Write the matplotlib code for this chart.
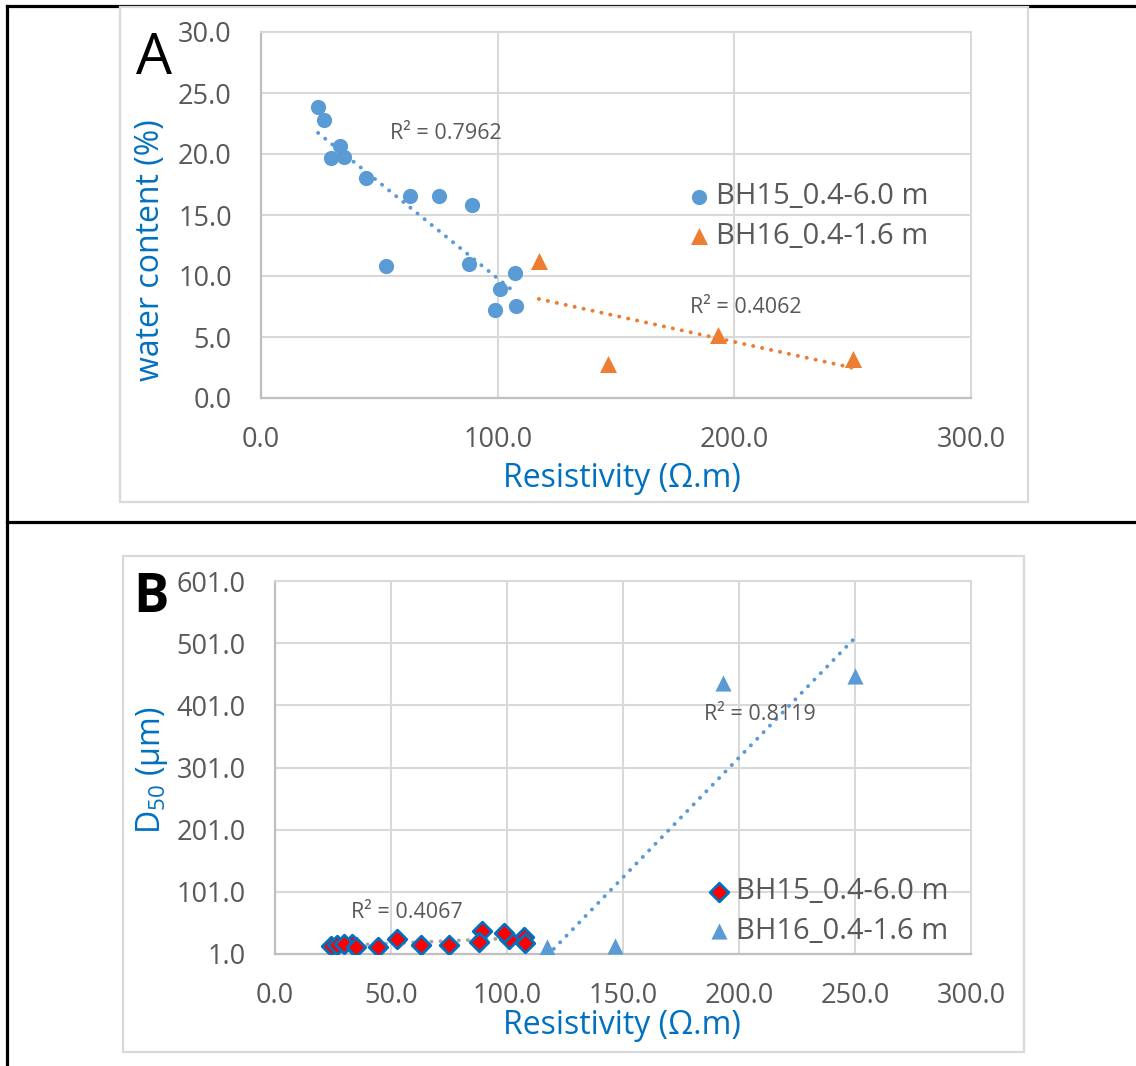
import numpy as np
import matplotlib
matplotlib.use("Agg")
import matplotlib.pyplot as plt
from matplotlib.patches import Rectangle
from matplotlib.lines import Line2D
from matplotlib.ticker import FormatStrFormatter

plt.rcParams['font.family'] = ['Open Sans', 'DejaVu Sans']

# ---------------- data ----------------
bh15_res = [24.1, 26.6, 33.4, 29.6, 35.1, 44.4, 63.0, 75.2, 89.1, 52.8, 87.9, 107.3, 101.0, 98.9, 107.7]
bh15_wc = [23.85, 22.8, 20.66, 19.67, 19.75, 18.03, 16.56, 16.56, 15.8, 10.8, 10.98, 10.25, 8.93, 7.2, 7.54]
bh15_d50 = [14.3, 15.5, 17.0, 16.6, 12.7, 12.7, 15.9, 14.9, 38.0, 24.6, 19.8, 28.8, 24.6, 34.2, 18.2]

bh16_res = [117.4, 146.6, 193.3, 250.0]
bh16_wc = [11.2, 2.75, 5.2, 3.2]
bh16_d50 = [12.3, 13.9, 436.5, 447.9]

label_bh15 = "BH15_0.4-6.0 m"
label_bh16 = "BH16_0.4-1.6 m"
r2_a = ["R² = 0.7962", "R² = 0.4062"]
r2_b = ["R² = 0.4067", "R² = 0.8119"]
xticks_a = [0, 100, 200, 300]
xticks_b = [0, 50, 100, 150, 200, 250, 300]
yticks_a = [0, 5, 10, 15, 20, 25, 30]
yticks_b = [1, 101, 201, 301, 401, 501, 601]

BLUE = '#5B9BD5'
ORANGE = '#ED7D31'
GREY = '#A5A5A5'
TXT = '#595959'
AXBLUE = '#0070C0'
GRID = '#D9D9D9'

W, H = 1136, 1066
fig = plt.figure(figsize=(W / 100, H / 100), dpi=100)


def fx(px):
    return px / W


def fy(py):
    return 1 - py / H


# table lines
lw_black = 2.3
fig.add_artist(Line2D([fx(7), 1.0], [fy(6), fy(6)], color='black', lw=lw_black, zorder=-3))
fig.add_artist(Line2D([fx(7), fx(7)], [fy(6), 0.0], color='black', lw=lw_black, zorder=-3))
fig.add_artist(Line2D([fx(7), 1.0], [fy(522), fy(522)], color='black', lw=lw_black, zorder=-3))

# chart area boxes
for (x0, y0, x1, y1) in [(119.5, 7, 1027.7, 501.7), (122.7, 556, 1024, 1052)]:
    fig.add_artist(Rectangle((fx(x0), fy(y1)), fx(x1) - fx(x0), fy(y0) - fy(y1),
                             transform=fig.transFigure, facecolor='white',
                             edgecolor=GRID, lw=1.6, zorder=-2))


def style_axes(ax):
    ax.set_facecolor('white')
    ax.grid(True, color=GRID, lw=1.5)
    ax.set_axisbelow(True)
    for s in ['top', 'right']:
        ax.spines[s].set_color(GRID)
        ax.spines[s].set_linewidth(1.5)
    for s in ['left', 'bottom']:
        ax.spines[s].set_color('#BFBFBF')
        ax.spines[s].set_linewidth(1.6)
    ax.tick_params(length=0, labelsize=19.5, labelcolor=TXT)
    ax.tick_params(axis='y', pad=21)
    ax.tick_params(axis='x', pad=20)
    ax.xaxis.set_major_formatter(FormatStrFormatter('%.1f'))
    ax.yaxis.set_major_formatter(FormatStrFormatter('%.1f'))


def trend(ax, x, y, color):
    x = np.asarray(x)
    y = np.asarray(y)
    p = np.polyfit(x, y, 1)
    xx = np.array([x.min(), x.max()])
    ax.plot(xx, np.polyval(p, xx), color=color, lw=2.8,
            linestyle=(0, (0.05, 2.3)), dash_capstyle='round', zorder=2)


legend_kw = dict(loc='center left', frameon=False, fontsize=21, labelcolor=TXT,
                 handlelength=0.8, handletextpad=0.2, borderpad=0, borderaxespad=0,
                 labelspacing=0.36, markerscale=1.0)

# ---------------- Panel A ----------------
axA = fig.add_axes([fx(261), fy(398), fx(971) - fx(261), fy(32) - fy(398)])
style_axes(axA)
axA.set_xlim(0, 300)
axA.set_ylim(0, 30)
axA.set_xticks(xticks_a)
axA.set_yticks(yticks_a)
axA.scatter(bh15_res, bh15_wc, s=120, marker='o', color=BLUE, lw=0, zorder=3, label=label_bh15)
axA.scatter(bh16_res, bh16_wc, s=150, marker='^', color=ORANGE, lw=0, zorder=3, label=label_bh16)
trend(axA, bh15_res, bh15_wc, BLUE)
trend(axA, bh16_res, bh16_wc, ORANGE)
axA.text(78.2, 21.7, r2_a[0], fontsize=15.5, color=TXT, ha='center', va='center')
axA.text(205.0, 7.4, r2_a[1], fontsize=15.5, color=TXT, ha='center', va='center')
axA.set_xlabel("Resistivity (Ω.m)", fontsize=23, color=AXBLUE)
axA.xaxis.set_label_coords(0.508, -0.219)
axA.xaxis.label.set_va('center')
axA.set_ylabel("water content (%)", fontsize=23, color=AXBLUE, va='center')
axA.yaxis.set_label_coords(-0.156, 0.404)
axA.legend(bbox_to_anchor=(0.600, 0.496), **legend_kw)
fig.text(fx(154), fy(59), "A", fontsize=41, color='black', ha='center', va='center')

# ---------------- Panel B ----------------
axB = fig.add_axes([fx(275), fy(954), fx(971) - fx(275), fy(581) - fy(954)])
style_axes(axB)
axB.set_xlim(0, 300)
axB.set_ylim(1, 601)
axB.set_xticks(xticks_b)
axB.set_yticks(yticks_b)
trend(axB, bh15_res, bh15_d50, GREY)
trend(axB, bh16_res, bh16_d50, BLUE)
axB.scatter(bh15_res, bh15_d50, s=90, marker='D', facecolor='#FF0000', edgecolor=AXBLUE,
            lw=2.0, zorder=3, label=label_bh15)
axB.scatter(bh16_res, bh16_d50, s=135, marker='^', color=BLUE, lw=0, zorder=3, label=label_bh16)
axB.text(56.9, 68.5, r2_b[0], fontsize=15.5, color=TXT, ha='center', va='center')
axB.text(209.0, 386.8, r2_b[1], fontsize=15.5, color=TXT, ha='center', va='center')
axB.set_xlabel("Resistivity (Ω.m)", fontsize=23, color=AXBLUE)
axB.xaxis.set_label_coords(0.4986, -0.193)
axB.xaxis.label.set_va('center')
axB.set_ylabel(r"D$\mathregular{_{50}}$ (µm)", fontsize=23, color=AXBLUE, va='center')
axB.yaxis.set_label_coords(-0.177, 0.493)
axB.legend(bbox_to_anchor=(0.621, 0.114), **legend_kw)
fig.text(fx(151), fy(598), "B", fontsize=38, fontweight='bold', color='black', ha='center', va='center')

fig.savefig("out.png", dpi=100, facecolor='white')
